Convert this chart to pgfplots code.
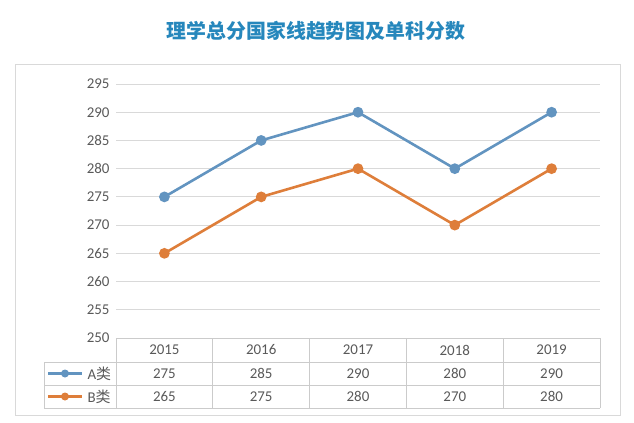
\documentclass[border=0pt]{standalone}
\usepackage{pgfplots}
\pgfplotsset{compat=1.18}
\usepackage{fontspec}
\setmainfont{Carlito}
\newfontfamily\cjk{Noto Sans CJK SC}
\definecolor{serA}{RGB}{98,148,192}
\definecolor{serB}{RGB}{222,126,58}
\definecolor{txt}{RGB}{89,89,89}
\definecolor{gridc}{RGB}{217,217,217}
\definecolor{titc}{RGB}{38,135,188}
\begin{document}
\begin{tikzpicture}[x=1bp,y=1bp]
\useasboundingbox (0,0) rectangle (634,422);
\draw[gridc, line width=0.8bp] (15,7) rectangle (620,358);
\node[font=\cjk\bfseries\fontsize{20}{23}\selectfont, text=titc] at (316,391) {理学总分国家线趋势图及单科分数};
\begin{axis}[
  at={(116bp,84bp)}, anchor=south west,
  scale only axis, width=484bp, height=254bp,
  xmin=-0.5, xmax=4.5, ymin=250, ymax=295,
  ytick={250,255,...,295}, xtick=\empty,
  axis line style={draw=none},
  major tick length=0pt,
  ymajorgrids, grid style={gridc, line width=0.8bp},
  /pgf/number format/assume math mode=true,
  yticklabel style={font=\fontsize{15}{17}\selectfont, text=txt, xshift=-3bp},
  clip=false,
]
\addplot[serA, line width=2.6bp, mark=*, mark size=4bp] coordinates {(0,275) (1,285) (2,290) (3,280) (4,290)};
\addplot[serB, line width=2.6bp, mark=*, mark size=4bp] coordinates {(0,265) (1,275) (2,280) (3,270) (4,280)};
\end{axis}
% data table
\begin{scope}[gridc!85!gray, line width=0.8bp]
\draw (116,84) -- (600,84);
\draw (44,60) -- (600,60);
\draw (44,37) -- (600,37);
\draw (44,14) -- (600,14);
\draw (44,60) -- (44,14);
\foreach \xx in {116,212.8,309.6,406.4,503.2,600} {\draw (\xx,84) -- (\xx,14);}
\end{scope}
\begin{scope}[every node/.style={font=\fontsize{15}{17}\selectfont, text=txt}]
\foreach \yr [count=\i from 0] in {2015,2016,2017,2018,2019} {\node at (164.4+96.8*\i,72) {\yr};}
\foreach \v [count=\i from 0] in {275,285,290,280,290} {\node at (164.4+96.8*\i,48.5) {\v};}
\foreach \v [count=\i from 0] in {265,275,280,270,280} {\node at (164.4+96.8*\i,25.5) {\v};}
\node[anchor=west] at (84,48.5) {A{\cjk 类}};
\node[anchor=west] at (84,25.5) {B{\cjk 类}};
\end{scope}
\draw[serA, line width=2.6bp] (48,48.5) -- (82,48.5);
\fill[serA] (65,48.5) circle (4bp);
\draw[serB, line width=2.6bp] (48,25.5) -- (82,25.5);
\fill[serB] (65,25.5) circle (4bp);
\end{tikzpicture}
\end{document}
